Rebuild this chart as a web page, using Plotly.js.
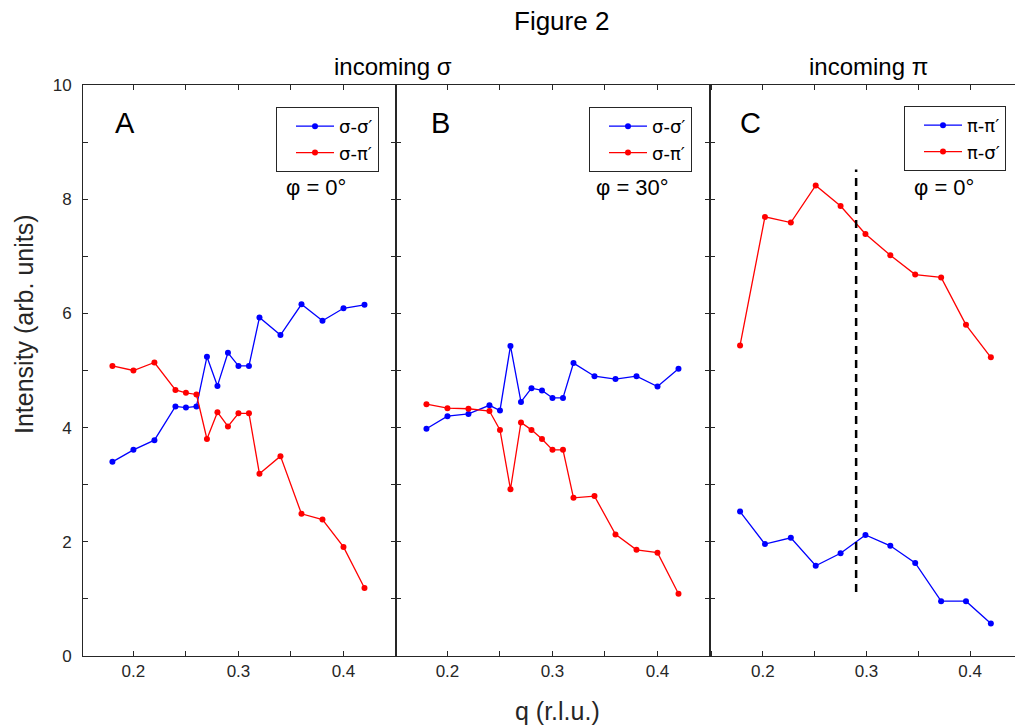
<!DOCTYPE html>
<html>
<head>
<meta charset="utf-8">
<script src="https://cdn.plot.ly/plotly-3.0.1.min.js"></script>
<style>html,body{margin:0;padding:0;background:#fff;}#chart{width:1015px;height:728px;}</style>
</head>
<body>
<div id="chart"></div>
<script>
// ---- data ----
const qAB = [0.18,0.20,0.22,0.24,0.25,0.26,0.27,0.28,0.29,0.30,0.31,0.32,0.34,0.36,0.38,0.40,0.42];
const A_ss = [3.40,3.61,3.78,4.37,4.35,4.37,5.24,4.73,5.31,5.08,5.08,5.93,5.62,6.16,5.87,6.09,6.15];
const A_sp = [5.08,5.00,5.14,4.66,4.61,4.58,3.80,4.27,4.02,4.25,4.25,3.19,3.50,2.49,2.39,1.91,1.19];
const B_ss = [3.98,4.20,4.24,4.39,4.30,5.43,4.45,4.69,4.65,4.52,4.52,5.13,4.90,4.85,4.90,4.72,5.03];
const B_sp = [4.41,4.34,4.33,4.29,3.96,2.92,4.09,3.96,3.80,3.61,3.61,2.77,2.80,2.13,1.86,1.81,1.09];
const qC = [0.178,0.202,0.227,0.251,0.275,0.299,0.323,0.347,0.372,0.396,0.420];
const C_pp = [2.53,1.96,2.07,1.58,1.80,2.12,1.93,1.63,0.96,0.96,0.57];
const C_ps = [5.44,7.69,7.59,8.24,7.88,7.39,7.02,6.68,6.63,5.80,5.23];
const dashQ = 0.29, dashY = [1.12, 8.52];
const namesAB = ['σ-σ′','σ-π′'];
const namesC = ['π-π′','π-σ′'];
const panelLabels = ['A','B','C'];
const phiLabels = ['φ = 0°','φ = 30°','φ = 0°'];
const groupTitles = ['incoming σ','incoming π'];

// ---- layout helpers (pixel -> paper) ----
const W = 1015, H = 728, ML = 83, MR = 0, MT = 85, MB = 72;
const PW = W - ML - MR, PH = H - MT - MB;
const px = x => (x - ML) / PW;
const py = y => (H - MB - y) / PH;

const FONT = 'Arial, "Liberation Sans", Helvetica, sans-serif';
const LFONT = '"DejaVu Sans", Arial, sans-serif';
const BLUE = '#0000ff', RED = '#ff0000', AX = '#262626';

function tr(x, y, name, color, xa, ya, lg) {
  return {x: x, y: y, name: name, type: 'scatter', mode: 'lines+markers',
    line: {color: color, width: 1.3}, marker: {color: color, size: 6},
    xaxis: xa, yaxis: ya, legend: lg};
}
const traces = [
  tr(qAB, A_ss, namesAB[0], BLUE, 'x', 'y', 'legend'),
  tr(qAB, A_sp, namesAB[1], RED, 'x', 'y', 'legend'),
  tr(qAB, B_ss, namesAB[0], BLUE, 'x2', 'y2', 'legend2'),
  tr(qAB, B_sp, namesAB[1], RED, 'x2', 'y2', 'legend2'),
  tr(qC, C_pp, namesC[0], BLUE, 'x3', 'y3', 'legend3'),
  tr(qC, C_ps, namesC[1], RED, 'x3', 'y3', 'legend3'),
  {x: [dashQ, dashQ], y: dashY, mode: 'lines', type: 'scatter', showlegend: false,
   line: {color: '#000', width: 2.5, dash: '8px,6px'}, xaxis: 'x3', yaxis: 'y3'}
];

function xax(dom, rng, anchor, mirror) {
  return {domain: dom, range: rng, anchor: anchor, tick0: 0, dtick: 0.1,
    tickformat: '.1f', ticks: 'inside', ticklen: 5, tickcolor: AX, tickwidth: 1,
    minor: {dtick: 0.05, tick0: 0, ticks: 'inside', ticklen: 5, tickcolor: AX},
    showline: true, linecolor: AX, linewidth: 1, mirror: mirror, showgrid: false, zeroline: false,
    tickfont: {size: 17, color: AX, family: FONT}};
}
function yax(anchor, labels, mirror) {
  return {domain: [0, 1], range: [0, 10], anchor: anchor, dtick: 2, tick0: 0,
    ticks: 'inside', ticklen: 5, tickcolor: AX, tickwidth: 1, ticklabelstandoff: 7,
    minor: {dtick: 1, ticks: 'inside', ticklen: 5, tickcolor: AX},
    showticklabels: labels, showline: true, linecolor: AX, linewidth: 1, mirror: mirror,
    showgrid: false, zeroline: false, tickfont: {size: 17, color: AX, family: FONT}};
}
const dA = [0, px(396)], dB = [px(396), px(710)], dC = [px(710), 1];

function leg(xr, yt) {
  return {x: px(xr), y: py(yt), xanchor: 'right', yanchor: 'top', xref: 'paper', yref: 'paper',
    bgcolor: '#fff', bordercolor: '#262626', borderwidth: 1, indentation: 14,
    font: {size: 18, color: '#000', family: LFONT}, tracegroupgap: 0, itemwidth: 38};
}

const ann = [];
function txt(t, x, y, size, color) {
  ann.push({text: t, x: px(x), y: py(y), xref: 'paper', yref: 'paper', showarrow: false,
    xanchor: 'center', yanchor: 'middle', font: {size: size, color: color || '#000', family: FONT}});
}
txt(panelLabels[0], 125, 123, 29);
txt(panelLabels[1], 440, 123, 29);
txt(panelLabels[2], 750, 123, 29);
txt(phiLabels[0], 316, 187, 22);
txt(phiLabels[1], 632, 187, 22);
txt(phiLabels[2], 944, 187, 22);
txt(groupTitles[0], 393, 66, 24);
txt(groupTitles[1], 868, 66, 24);
txt('Figure 2', 561, 21, 26);
txt('q (r.l.u.)', 557, 711, 25, '#262626');
ann.push({text: 'Intensity (arb. units)', x: px(24), y: py(324), xref: 'paper', yref: 'paper',
  showarrow: false, textangle: -90, xanchor: 'center', yanchor: 'middle',
  font: {size: 25, color: '#262626', family: FONT}});

const layout = {
  width: W, height: H, margin: {l: ML, r: MR, t: MT, b: MB},
  paper_bgcolor: '#fff', plot_bgcolor: '#fff', font: {family: FONT},
  xaxis: xax(dA, [0.152, 0.45], 'y', 'ticks'),
  xaxis2: xax(dB, [0.151, 0.45], 'y2', 'ticks'),
  xaxis3: xax(dC, [0.149, 0.4433], 'y3', 'ticks'),
  yaxis: yax('x', true, 'ticks'),
  yaxis2: yax('x2', false, 'ticks'),
  yaxis3: yax('x3', false, false),
  legend: leg(379, 107), legend2: leg(692, 107), legend3: leg(1006, 106),
  annotations: ann
};
Plotly.newPlot('chart', traces, layout, {staticPlot: true});
</script>
</body>
</html>
